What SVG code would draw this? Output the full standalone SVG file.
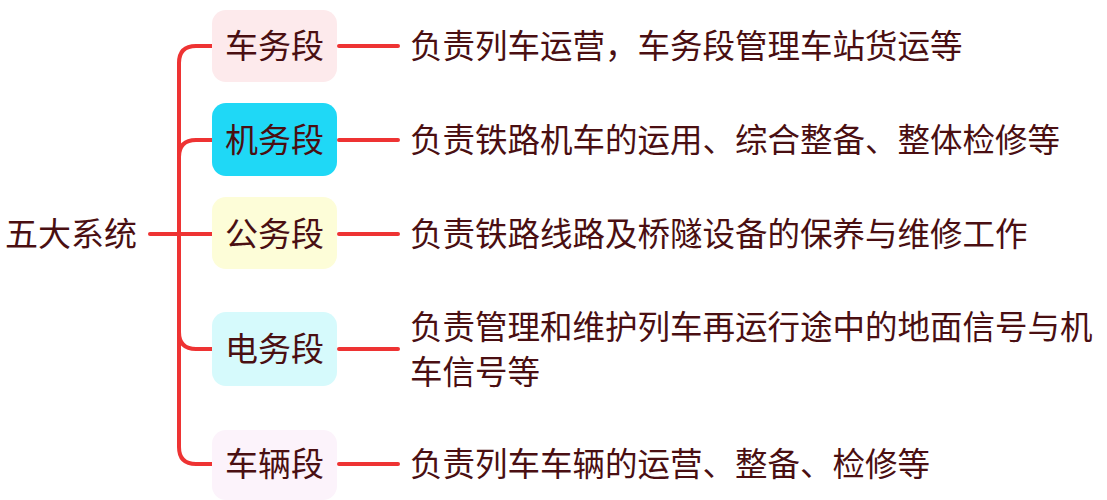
<svg xmlns="http://www.w3.org/2000/svg" width="1107" height="500" viewBox="0 0 1107 500">
<style>
text{font-family:"Noto Sans CJK SC","Noto Sans",sans-serif;fill:#4a0f12;font-size:32.5px}
.n{font-size:33px}
.c{fill:none;stroke:#ee3333;stroke-width:4;stroke-linecap:round}
</style>
<rect width="1107" height="500" fill="#fff"/>
<g id="connectors">
<path class="c" d="M150 234H212"/>
<path class="c" d="M212 46H196Q179 46 179 63V447Q179 464 196 464H212"/>
<path class="c" d="M212 140H196Q179 140 179 157"/>
<path class="c" d="M212 349H196Q179 349 179 332"/>
<path class="c" d="M339 46H398M339 140H398M339 234H398M339 349H398M339 464H398"/>
</g>
<g id="root"><text class="n" x="5" y="246">五大系统</text></g>
<g id="n1"><rect x="212" y="10" width="125" height="72" rx="14" fill="#fdeaec"/><text class="n" x="274.5" y="58" text-anchor="middle">车务段</text></g>
<g id="n2"><rect x="212" y="103" width="125" height="73" rx="14" fill="#1fd8f6"/><text class="n" x="274.5" y="152" text-anchor="middle">机务段</text></g>
<g id="n3"><rect x="212" y="197" width="125" height="72" rx="14" fill="#fdfdd8"/><text class="n" x="274.5" y="246" text-anchor="middle">公务段</text></g>
<g id="n4"><rect x="212" y="312" width="125" height="74" rx="14" fill="#d6fafc"/><text class="n" x="274.5" y="361" text-anchor="middle">电务段</text></g>
<g id="n5"><rect x="212" y="430" width="125" height="70" rx="14" fill="#fcf3fb"/><text class="n" x="274.5" y="476" text-anchor="middle">车辆段</text></g>
<g id="d1"><text x="410" y="58">负责列车运营，车务段管理车站货运等</text></g>
<g id="d2"><text x="410" y="152">负责铁路机车的运用、综合整备、整体检修等</text></g>
<g id="d3"><text x="410" y="246">负责铁路线路及桥隧设备的保养与维修工作</text></g>
<g id="d4"><text x="410" y="339">负责管理和维护列车再运行途中的地面信号与机</text><text x="410" y="384">车信号等</text></g>
<g id="d5"><text x="410" y="476">负责列车车辆的运营、整备、检修等</text></g>
</svg>
